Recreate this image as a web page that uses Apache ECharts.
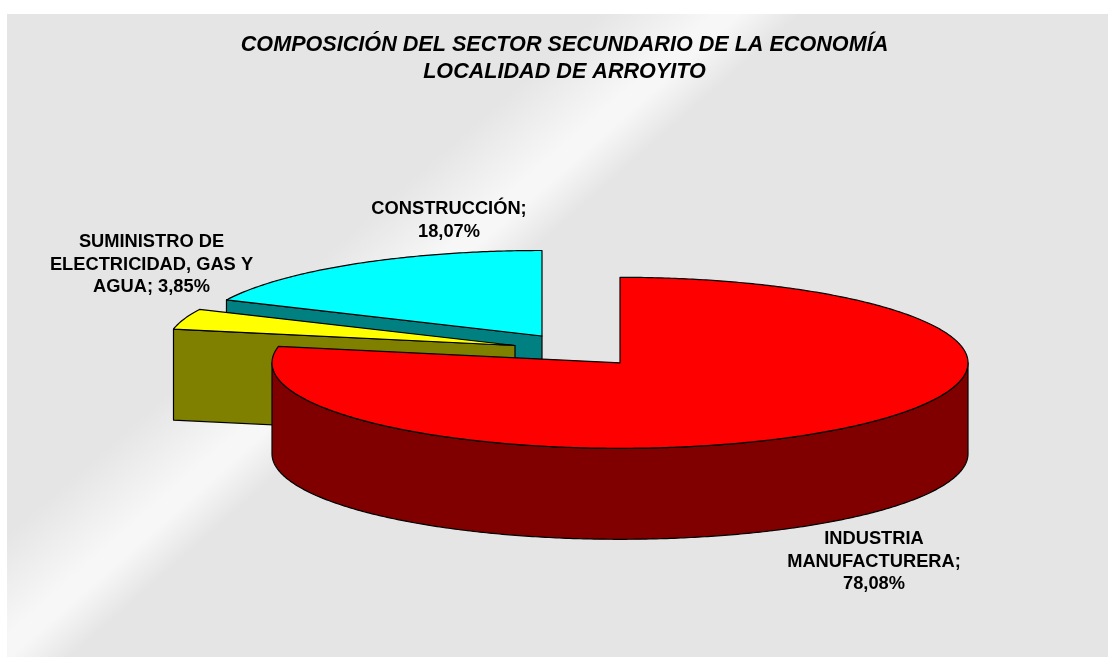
<!DOCTYPE html>
<html>
<head>
<meta charset="utf-8">
<style>html,body{margin:0;padding:0;background:#fff}#c{width:1108px;height:657px}</style>
<script src="https://cdn.jsdelivr.net/npm/echarts@6/dist/echarts.min.js"></script>
</head>
<body>
<div id="c"></div>
<script>
// Data, clockwise from 12 o'clock
const categories = ['INDUSTRIA MANUFACTURERA', 'SUMINISTRO DE ELECTRICIDAD, GAS Y AGUA', 'CONSTRUCCIÓN'];
const shares = [78.08, 3.85, 18.07];
const titleLines = ['COMPOSICIÓN DEL SECTOR SECUNDARIO DE LA ECONOMÍA', 'LOCALIDAD DE ARROYITO'];

// Presentation per category (same order as categories)
const topColors = ['#ff0000', '#ffff00', '#00ffff'];
const sideColors = ['#800000', '#808000', '#008080'];
const apex = [[620, 362.8], [515, 345.5], [542, 336]];
const labelLayouts = [
  { x: 874, y: 527.5, lines: ['INDUSTRIA', 'MANUFACTURERA;'], sep: '\n' },
  { x: 151.5, y: 230.5, lines: ['SUMINISTRO DE', 'ELECTRICIDAD, GAS Y', 'AGUA;'], sep: ' ' },
  { x: 449, y: 197.5, lines: ['CONSTRUCCIÓN;'], sep: '\n' }
];
const drawOrder = [2, 1, 0]; // far slices first
const RX = 348, RY = 85.5, DEPTH = 91, LINE = { stroke: '#000', lineWidth: 1.2, lineJoin: 'round' };

const total = shares.reduce((a, b) => a + b, 0);
const startAngles = [];
shares.reduce((acc, v, i) => { startAngles[i] = acc; return acc + v / total * 2 * Math.PI; }, 0);

function rim(c, a) { return [c[0] + RX * Math.sin(a), c[1] - RY * Math.cos(a)]; }
function arc(c, a0, a1) {
  const n = Math.max(2, Math.ceil(Math.abs(a1 - a0) / 0.01)), out = [];
  for (let k = 0; k <= n; k++) out.push(rim(c, a0 + (a1 - a0) * k / n));
  return out;
}
const down = p => [p[0], p[1] + DEPTH];

function renderSlice(params, api) {
  const i = api.value(0), value = api.value(1);
  const a0 = startAngles[i], a1 = a0 + value / total * 2 * Math.PI;
  const c = apex[i], children = [];
  const side = pts => ({ type: 'polygon', shape: { points: pts }, style: Object.assign({ fill: sideColors[i] }, LINE) });

  // radial face seen from the front: start edge on the left half
  if (Math.sin(a0) < -1e-6) {
    const e = rim(c, a0);
    children.push(side([c, e, down(e), down(c)]));
  }
  // radial face seen from the front: end edge on the right half
  if (Math.sin(a1) > 1e-6) {
    const e = rim(c, a1);
    children.push(side([c, e, down(e), down(c)]));
  }
  // front rim wall
  const w0 = Math.max(a0, Math.PI / 2), w1 = Math.min(a1, 3 * Math.PI / 2);
  if (w1 > w0) {
    const top = arc(c, w0, w1);
    children.push(side(top.concat(top.slice().reverse().map(down))));
  }
  // top face
  children.push({
    type: 'polygon',
    shape: { points: [c].concat(arc(c, a0, a1)) },
    style: Object.assign({ fill: topColors[i] }, LINE)
  });
  return { type: 'group', children };
}

function labelEl(i) {
  const l = labelLayouts[i];
  const pct = shares[i].toFixed(2).replace('.', ',') + '%';
  const text = l.sep === ' '
    ? l.lines.slice(0, -1).join('\n') + '\n' + l.lines[l.lines.length - 1] + ' ' + pct
    : l.lines.join('\n') + '\n' + pct;
  return {
    type: 'text', x: l.x, y: l.y, z: 10, silent: true,
    style: {
      text, fill: '#000', align: 'center', verticalAlign: 'top',
      font: 'bold 18.3px "Liberation Sans", Arial, sans-serif', lineHeight: 22.7
    }
  };
}

const chart = echarts.init(document.getElementById('c'), null, { renderer: 'canvas' });
chart.setOption({
  animation: false,
  backgroundColor: '#ffffff',
  title: {
    text: titleLines.join('\n'),
    left: 559.5, top: 27, textAlign: 'center',
    textStyle: {
      fontFamily: '"Liberation Sans", Arial, sans-serif',
      fontSize: 21.6, fontWeight: 'bold', fontStyle: 'italic', color: '#000', lineHeight: 27
    }
  },
  graphic: [
    {
      // panel with a diagonal sheen
      type: 'rect', z: -10, silent: true,
      shape: { x: 7, y: 14, width: 1101, height: 643 },
      style: {
        fill: new echarts.graphic.LinearGradient(0, 0, 880, 1000, [
          { offset: 0, color: '#e5e5e5' },
          { offset: 0.305, color: '#e5e5e5' },
          { offset: 0.34, color: '#f0f0f0' },
          { offset: 0.362, color: '#f7f7f7' },
          { offset: 0.375, color: '#f7f7f7' },
          { offset: 0.405, color: '#e5e5e5' },
          { offset: 1, color: '#e5e5e5' }
        ], true)
      }
    }
  ].concat([0, 1, 2].map(labelEl)),
  series: [{
    type: 'custom',
    coordinateSystem: 'none',
    silent: true,
    renderItem: renderSlice,
    encode: { value: 1, itemName: 2 },
    data: drawOrder.map(i => [i, shares[i], categories[i]])
  }]
});
</script>
</body>
</html>
